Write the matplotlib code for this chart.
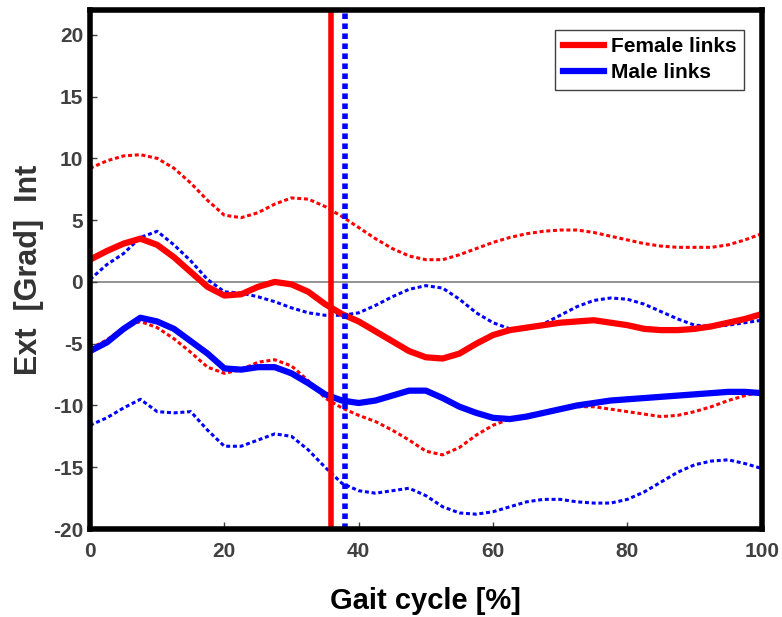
import matplotlib
matplotlib.use("Agg")
import matplotlib.pyplot as plt

plt.rcParams["font.family"] = ["Liberation Sans", "DejaVu Sans"]
plt.rcParams["font.weight"] = "bold"
plt.rcParams["axes.unicode_minus"] = False

# Gait cycle grid (%)
gait = [0, 2.5, 5, 7.5, 10, 12.5, 15, 17.5, 20, 22.5, 25, 27.5, 30, 32.5, 35, 37.5, 40,
        42.5, 45, 47.5, 50, 52.5, 55, 57.5, 60, 62.5, 65, 67.5, 70, 72.5, 75, 77.5, 80,
        82.5, 85, 87.5, 90, 92.5, 95, 97.5, 100]

female_mean = [1.8, 2.5, 3.1, 3.5, 3.0, 2.0, 0.8, -0.4, -1.1, -1.0, -0.4, 0.0, -0.2, -0.8,
               -1.8, -2.6, -3.2, -4.0, -4.8, -5.6, -6.1, -6.2, -5.8, -5.0, -4.3, -3.9, -3.7,
               -3.5, -3.3, -3.2, -3.1, -3.3, -3.5, -3.8, -3.9, -3.9, -3.8, -3.6, -3.3, -3.0, -2.6]
female_upper = [9.2, 9.8, 10.2, 10.3, 10.0, 9.2, 8.0, 6.6, 5.4, 5.2, 5.6, 6.3, 6.8, 6.7,
                6.1, 5.3, 4.4, 3.5, 2.7, 2.1, 1.8, 1.8, 2.2, 2.7, 3.2, 3.6, 3.9, 4.1, 4.2,
                4.2, 4.0, 3.7, 3.4, 3.1, 2.9, 2.8, 2.8, 2.8, 3.0, 3.4, 3.9]
female_lower = [-5.4, -4.7, -3.7, -3.2, -3.7, -4.6, -5.7, -6.9, -7.4, -7.1, -6.5, -6.3, -6.8,
                -8.0, -9.4, -10.2, -10.8, -11.3, -12.0, -12.8, -13.7, -14.0, -13.4, -12.4,
                -11.6, -11.1, -10.8, -10.5, -10.3, -10.1, -10.1, -10.3, -10.5, -10.7, -10.9,
                -10.8, -10.5, -10.1, -9.6, -9.2, -8.9]

male_mean = [-5.6, -4.9, -3.8, -2.9, -3.2, -3.8, -4.8, -5.8, -7.0, -7.1, -6.9, -6.9, -7.4,
             -8.2, -9.1, -9.6, -9.8, -9.6, -9.2, -8.8, -8.8, -9.4, -10.1, -10.6, -11.0, -11.1,
             -10.9, -10.6, -10.3, -10.0, -9.8, -9.6, -9.5, -9.4, -9.3, -9.2, -9.1, -9.0, -8.9,
             -8.9, -9.0]
male_upper = [0.2, 1.4, 2.3, 3.6, 4.1, 3.0, 1.7, 0.2, -0.8, -0.9, -1.2, -1.6, -2.1, -2.5,
              -2.7, -2.7, -2.5, -1.9, -1.2, -0.6, -0.3, -0.5, -1.4, -2.5, -3.3, -3.8, -3.8,
              -3.4, -2.7, -2.0, -1.5, -1.3, -1.4, -1.8, -2.4, -3.0, -3.5, -3.6, -3.5, -3.3, -3.1]
male_lower = [-11.6, -11.0, -10.2, -9.5, -10.5, -10.6, -10.5, -12.0, -13.3, -13.3, -12.8,
              -12.3, -12.5, -13.6, -15.0, -16.3, -16.9, -17.1, -16.9, -16.7, -17.3, -18.2,
              -18.7, -18.8, -18.6, -18.2, -17.8, -17.6, -17.6, -17.8, -17.9, -17.9, -17.6,
              -17.0, -16.2, -15.4, -14.8, -14.5, -14.4, -14.7, -15.1]

# toe-off markers (%)
female_toeoff = 35.9
male_toeoff = 38.0

fig = plt.figure(figsize=(7.82, 6.17), dpi=100)
ax = fig.add_axes([0.1151, 0.1426, 0.859, 0.841])

ax.axhline(0, color="#808080", linewidth=1.2, zorder=1)

dot = (0, (1.3, 0.9))
ax.plot(gait, female_upper, color="#ff0000", linestyle=dot, linewidth=2.2)
ax.plot(gait, female_lower, color="#ff0000", linestyle=dot, linewidth=2.2)
ax.plot(gait, male_upper, color="#0000ff", linestyle=dot, linewidth=2.2)
ax.plot(gait, male_lower, color="#0000ff", linestyle=dot, linewidth=2.2)

ax.plot(gait, female_mean, color="#ff0000", linewidth=4.5, label="Female links")
ax.plot(gait, male_mean, color="#0000ff", linewidth=4.5, label="Male links")

ax.axvline(female_toeoff, color="#ff0000", linewidth=4)
ax.axvline(male_toeoff, color="#0000ff", linewidth=4, linestyle=(0, (1, 0.8)))

ax.set_xlim(0, 100)
ax.set_ylim(-20, 22)
ax.set_xticks([0, 20, 40, 60, 80, 100])
ax.set_yticks([-20, -15, -10, -5, 0, 5, 10, 15, 20])
ax.tick_params(direction="in", length=5, width=1, colors="#404040", labelsize=15,
               top=False, right=False, pad=5)
ax.tick_params(axis="x", pad=9)
for lab in ax.get_xticklabels() + ax.get_yticklabels():
    lab.set_fontweight("bold")
for sp in ax.spines.values():
    sp.set_linewidth(4)
    sp.set_color("black")

ax.set_xlabel("Gait cycle [%]", fontsize=21, fontweight="bold", labelpad=19)
ax.set_ylabel("Ext  [Grad]  Int", fontsize=22, fontweight="bold", color="#333333", labelpad=6)

leg = ax.legend(loc="upper right", bbox_to_anchor=(0.973, 0.962), borderaxespad=0,
                fontsize=15, fancybox=False, framealpha=1, handlelength=2.0,
                borderpad=0.35, labelspacing=0.35, handletextpad=0.3)
leg.get_frame().set_edgecolor("#404040")
leg.get_frame().set_linewidth(1)
for t in leg.get_texts():
    t.set_fontweight("bold")

fig.savefig("out.png", dpi=100)
